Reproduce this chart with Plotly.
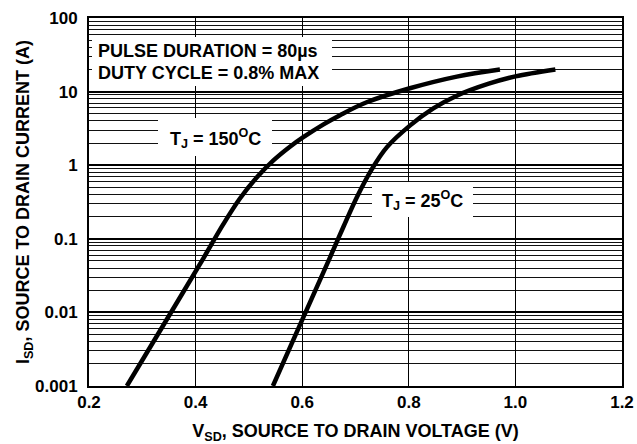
import plotly.graph_objects as go

# ---- data ----
v_150 = [0.271, 0.34, 0.4146, 0.452, 0.4835, 0.515, 0.546, 0.577, 0.602, 0.640, 0.671,
         0.721, 0.802, 0.890, 0.971]
i_150 = [0.001, 0.0068, 0.0543, 0.158, 0.355, 0.684, 1.16, 1.78, 2.40, 3.59, 4.79,
         7.16, 11.1, 16.0, 20.0]

v_25 = [0.545, 0.600, 0.652, 0.677, 0.703, 0.731, 0.759, 0.802, 0.846, 0.890, 0.950, 1.000, 1.075]
i_25 = [0.001, 0.0079, 0.0556, 0.1435, 0.374, 0.893, 1.76, 3.45, 5.9, 8.8, 12.8, 16.1, 20.0]

x_ticks = [0.2, 0.4, 0.6, 0.8, 1.0, 1.2]
x_tick_text = ["0.2", "0.4", "0.6", "0.8", "1.0", "1.2"]
y_ticks = [0.001, 0.01, 0.1, 1, 10, 100]
y_tick_text = ["0.001", "0.01", "0.1", "1", "10", "100"]
y_minor = [m * d for d in [0.001, 0.01, 0.1, 1, 10] for m in range(2, 10)]

FONT = "Liberation Sans"
W, H = 637, 444
L, R, T, B = 89, 15, 18, 58
PW, PH = W - L - R, H - T - B


def px(xp):
    return (xp - L) / PW


def py(yp):
    return (H - B - yp) / PH


fig = go.Figure()
for xs, ys in [(v_150, i_150), (v_25, i_25)]:
    fig.add_trace(go.Scatter(x=xs, y=ys, mode="lines",
                             line=dict(color="black", width=4.5, shape="spline", smoothing=1.0),
                             showlegend=False, hoverinfo="skip"))

# white label boxes that hide the grid (curves do not pass through them)
boxes = [(92, 37, 332, 86), (158, 118, 272, 156), (372, 182, 473, 217)]
for (x0, y0, x1, y1) in boxes:
    fig.add_shape(type="rect", xref="paper", yref="paper",
                  x0=px(x0), x1=px(x1), y0=py(y1), y1=py(y0),
                  fillcolor="white", line=dict(width=0), layer="above")

tf = dict(family=FONT, size=18, color="black", weight="bold")
fig.add_annotation(xref="paper", yref="paper", x=px(96), y=py(51), xanchor="left", yanchor="middle",
                   text="PULSE DURATION = 80µs", showarrow=False, font=tf)
fig.add_annotation(xref="paper", yref="paper", x=px(96), y=py(72.5), xanchor="left", yanchor="middle",
                   text="DUTY CYCLE = 0.8% MAX", showarrow=False, font=tf)
fig.add_annotation(xref="paper", yref="paper", x=px(215), y=py(138), xanchor="center", yanchor="middle",
                   text="T<sub>J</sub> = 150<sup>O</sup>C", showarrow=False, font=tf)
fig.add_annotation(xref="paper", yref="paper", x=px(422), y=py(200), xanchor="center", yanchor="middle",
                   text="T<sub>J</sub> = 25<sup>O</sup>C", showarrow=False, font=tf)

fig.update_xaxes(range=[0.2, 1.2], tickvals=x_ticks, ticktext=x_tick_text,
                 showgrid=True, gridcolor="black", gridwidth=1,
                 showline=True, linecolor="black", linewidth=2, mirror=True,
                 ticks="", zeroline=False,
                 tickfont=dict(family=FONT, size=17, color="black", weight="bold"),
                 title=dict(text="V<sub>SD</sub>, SOURCE TO DRAIN VOLTAGE (V)",
                            font=dict(family=FONT, size=18, color="black", weight="bold"),
                            standoff=16))
fig.update_yaxes(type="log", range=[-3, 2], tickvals=y_ticks, ticktext=y_tick_text,
                 showgrid=True, gridcolor="black", gridwidth=1.6,
                 minor=dict(tickvals=y_minor, showgrid=True, gridcolor="#111", gridwidth=1, ticks=""),
                 showline=True, linecolor="black", linewidth=2, mirror=True,
                 ticks="", zeroline=False, ticklabelstandoff=6,
                 tickfont=dict(family=FONT, size=17, color="black", weight="bold"),
                 title=dict(text="I<sub>SD</sub>, SOURCE TO DRAIN CURRENT (A)",
                            font=dict(family=FONT, size=18, color="black", weight="bold"),
                            standoff=1))

fig.update_layout(width=W, height=H, margin=dict(l=L, r=R, t=T, b=B, autoexpand=False),
                  plot_bgcolor="white", paper_bgcolor="white",
                  font=dict(family=FONT, color="black"))

fig.write_html("out.html", config={"displayModeBar": False},
               post_script="document.body.style.margin='0px';")
